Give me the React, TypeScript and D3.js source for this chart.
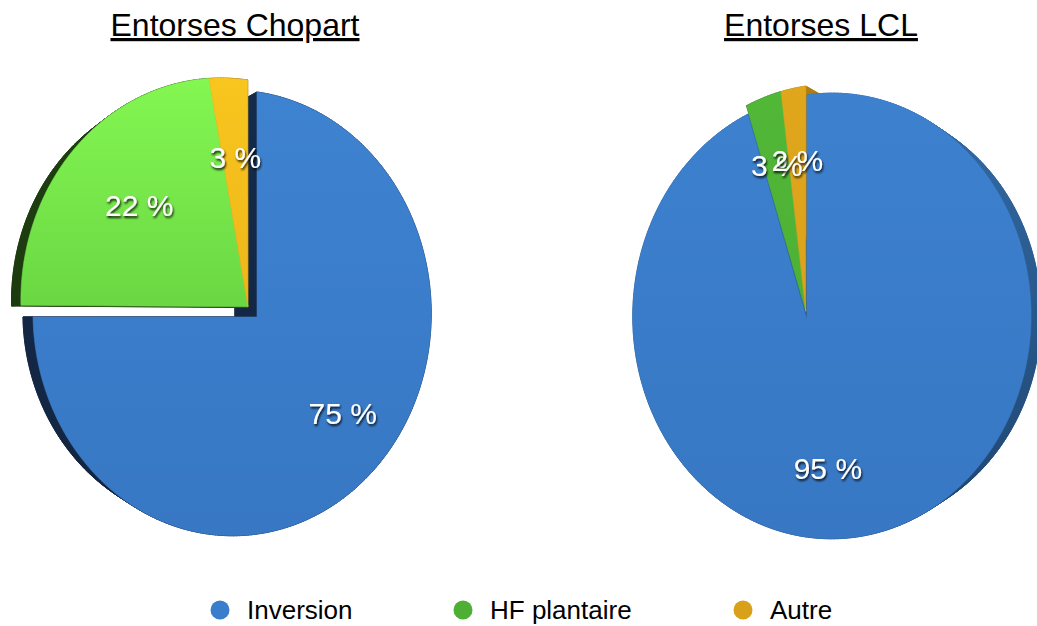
import React from "react";
import * as d3 from "d3";

// Data
const categories = ["Inversion", "HF plantaire", "Autre"];
const chopartValues = [75, 22, 3];
const lclValues = [95, 3, 2];
const chartTitles = ["Entorses Chopart", "Entorses LCL"];
const pulledOut = [false, true, true];

// Styles
const legendColors = ["#3a7dcc", "#4daf33", "#d9a019"];
const FONT = "'Liberation Sans', Arial, Helvetica, sans-serif";

type View = {
  cx: number;
  cy: number;
  sx: number;
  sy: number;
  k: number;
  m: number;
  vx: number;
  s: number;
  pull: number;
  labelR: number;
  faces: string[][];
  rims: string[][];
};

// Perspective set-up of the two tilted discs
const views: View[] = [
  {
    cx: 257, cy: 317, sx: 196, sy: 221, k: 0.125, m: -0.018,
    vx: 257 - 410, s: 0.946, pull: 0.065, labelR: 0.66,
    faces: [["#3e83d1", "#3777c3"], ["#84f752", "#50b633"], ["#f8c61e", "#e5a416"]],
    rims: [["#152b4c", "#12243f"], ["#1f3f10", "#1a360d"], ["#6e4c08", "#5e4006"]],
  },
  {
    cx: 807, cy: 320, sx: 196, sy: 221, k: -0.125, m: -0.018,
    vx: 807 + 410, s: 0.946, pull: 0.04, labelR: 0.68,
    faces: [["#3d81cf", "#3777c3"], ["#52b838", "#48a82f"], ["#e0a71d", "#d69c18"]],
    rims: [["#336ca9", "#1e436c"], ["#2f6c20", "#275c1a"], ["#b07e10", "#9a6d0c"]],
  },
];

type Pt = [number, number];

function front(v: View, u: number, w: number): Pt {
  const D = 1 + v.k * u + v.m * w;
  return [v.cx + (v.sx * u) / D, v.cy - (v.sy * w) / D];
}

function back(v: View, p: Pt): Pt {
  return [v.vx + v.s * (p[0] - v.vx), v.cy + v.s * (p[1] - v.cy)];
}

const pieGen = d3
  .pie<number>()
  .sort(null)
  .value((d) => d)
  .startAngle(0)
  .endAngle(2 * Math.PI);

const lineGen = d3.line<Pt>().curve(d3.curveLinearClosed);

function Pie({ values, view, idx }: { values: number[]; view: View; idx: number }) {
  const arcs = pieGen(values);
  const total = d3.sum(values);

  // pulled-out group moves together along its common bisector
  const pulledArcs = arcs.filter((_, i) => pulledOut[i]);
  const gStart = d3.min(pulledArcs, (a) => a.startAngle) ?? 0;
  const gEnd = d3.max(pulledArcs, (a) => a.endAngle) ?? 0;
  const gMid = (gStart + gEnd) / 2;
  const offU = Math.sin(gMid) * view.pull;
  const offW = Math.cos(gMid) * view.pull;

  const slices = arcs.map((a, i) => {
    const du = pulledOut[i] ? offU : 0;
    const dw = pulledOut[i] ? offW : 0;
    const model: Pt[] = [[du, dw]];
    const n = Math.max(2, Math.ceil((a.endAngle - a.startAngle) / 0.015));
    for (let j = 0; j <= n; j++) {
      const t = a.startAngle + ((a.endAngle - a.startAngle) * j) / n;
      model.push([du + Math.sin(t), dw + Math.cos(t)]);
    }
    const f = model.map(([u, w]) => front(view, u, w));
    const b = f.map((p) => back(view, p));
    const mid = (a.startAngle + a.endAngle) / 2;
    const lp = front(view, du + Math.sin(mid) * view.labelR, dw + Math.cos(mid) * view.labelR);
    return { i, f, b, lp, pct: Math.round((a.data / total) * 100) };
  });

  // side bodies are drawn from the far side toward the camera side
  const order = slices
    .slice()
    .sort((p, q) => {
      const px = d3.mean(p.f, (d) => d[0]) ?? 0;
      const qx = d3.mean(q.f, (d) => d[0]) ?? 0;
      return view.k > 0 ? qx - px : px - qx;
    });

  const gid = (kind: string, i: number) => `${kind}-${idx}-${i}`;

  return (
    <g>
      <defs>
        {slices.map(({ i }) => (
          <React.Fragment key={i}>
            <linearGradient id={gid("face", i)} gradientUnits="userSpaceOnUse" x1="0" y1={view.cy - 240} x2="0" y2={view.cy + 230}>
              <stop offset="0" stopColor={view.faces[i][0]} />
              <stop offset="1" stopColor={view.faces[i][1]} />
            </linearGradient>
            <linearGradient id={gid("rim", i)} gradientUnits="userSpaceOnUse" x1="0" y1={view.cy - 240} x2="0" y2={view.cy + 230}>
              <stop offset="0" stopColor={view.rims[i][0]} />
              <stop offset="1" stopColor={view.rims[i][1]} />
            </linearGradient>
          </React.Fragment>
        ))}
      </defs>
      {order.map(({ i, f, b }) => (
        <g key={"body" + i} fill={`url(#${gid("rim", i)})`} stroke={`url(#${gid("rim", i)})`} strokeWidth={0.8}>
          <path d={lineGen(b) ?? ""} />
          {f.map((p, j) => {
            const q = f[(j + 1) % f.length];
            const bp = b[j];
            const bq = b[(j + 1) % b.length];
            return <path key={j} d={lineGen([p, q, bq, bp]) ?? ""} />;
          })}
        </g>
      ))}
      {slices.map(({ i, f }) => (
        <path
          key={"face" + i}
          d={lineGen(f) ?? ""}
          fill={`url(#${gid("face", i)})`}
          stroke={`url(#${gid("face", i)})`}
          strokeWidth={0.6}
        />
      ))}
      {slices.map(({ i, lp, pct }) => (
        <text
          key={"lbl" + i}
          x={lp[0]}
          y={lp[1] + 10.5}
          textAnchor="middle"
          fontFamily={FONT}
          fontSize={30}
          fill="#ffffff"
          filter="url(#lblShadow)"
        >
          {`${pct} %`}
        </text>
      ))}
    </g>
  );
}

export default function App() {
  const legendX = [220, 463, 743];
  const titleX = [235, 821];
  return (
    <svg
      width={1037}
      height={626}
      viewBox="0 0 1037 626"
      style={{ position: "absolute", left: 0, top: 0, background: "#ffffff" }}
    >
      <defs>
        <filter id="lblShadow" x="-20%" y="-30%" width="140%" height="170%">
          <feDropShadow dx="1" dy="2" stdDeviation="1.3" floodColor="#000" floodOpacity="0.85" />
        </filter>
      </defs>
      <rect width={1037} height={626} fill="#ffffff" />
      {chartTitles.map((t, i) => (
        <text
          key={t}
          x={titleX[i]}
          y={36}
          textAnchor="middle"
          fontFamily={FONT}
          fontSize={32}
          fill="#000"
          style={{ textDecoration: "underline" }}
        >
          {t}
        </text>
      ))}
      <Pie values={chopartValues} view={views[0]} idx={0} />
      <Pie values={lclValues} view={views[1]} idx={1} />
      {categories.map((c, i) => (
        <g key={c}>
          <circle cx={legendX[i]} cy={610} r={9.5} fill={legendColors[i]} />
          <text x={legendX[i] + 27} y={619} fontFamily={FONT} fontSize={26} fill="#000">
            {c}
          </text>
        </g>
      ))}
    </svg>
  );
}
